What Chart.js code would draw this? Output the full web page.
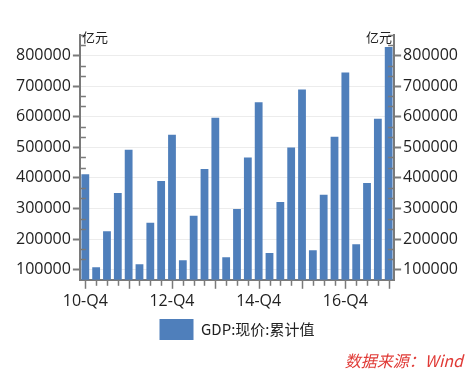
<!DOCTYPE html>
<html>
<head>
<meta charset="utf-8">
<script src="https://cdn.jsdelivr.net/npm/chart.js@4/dist/chart.umd.min.js"></script>
<style>
  html, body { margin: 0; padding: 0; background: #fff; }
  #wrap { position: relative; width: 469px; height: 369px; }
  #source {
    position: absolute; right: 6px; top: 351px;
    font: italic 16px "Noto Sans CJK SC", sans-serif; color: #e03a36;
    line-height: 18px;
  }
</style>
</head>
<body>
<div id="wrap">
  <canvas id="gdpChart"></canvas>
  <div id="source">数据来源：Wind</div>
</div>
<script>
const quarters = [
  '10-Q4',
  '11-Q1', '11-Q2', '11-Q3', '11-Q4',
  '12-Q1', '12-Q2', '12-Q3', '12-Q4',
  '13-Q1', '13-Q2', '13-Q3', '13-Q4',
  '14-Q1', '14-Q2', '14-Q3', '14-Q4',
  '15-Q1', '15-Q2', '15-Q3', '15-Q4',
  '16-Q1', '16-Q2', '16-Q3', '16-Q4',
  '17-Q1', '17-Q2', '17-Q3', '17-Q4'
];
const gdpCumulative = [
  412000,
  107500, 225700, 350400, 491500,
  117400, 253000, 389800, 540800,
  130500, 276000, 429000, 596500,
  140400, 298000, 466000, 646800,
  154500, 320900, 499000, 688400,
  163300, 344900, 534200, 744200,
  183000, 383200, 593300, 827300
];
const yTickValues = [100000, 200000, 300000, 400000, 500000, 600000, 700000, 800000];
const yMin = 66667;
const yMax = 866667;

const axisColor = '#7a7a7a';
const textColor = '#222';
const labelFont = { family: '"Open Sans", "Noto Sans", sans-serif', size: 16 };

// extra tick marks: minor ticks inside the y axes, per-quarter ticks on x, unit labels
const axisExtras = {
  id: 'axisExtras',
  afterDraw(chart) {
    const ctx = chart.ctx;
    const area = chart.chartArea;
    const x = chart.scales.x;
    const y = chart.scales.y;
    ctx.save();
    ctx.strokeStyle = axisColor;
    ctx.lineWidth = 1.5;
    for (let k = 1; k <= 24; k++) {
      if (k % 3 === 1) continue;
      const v = yMin + k * 100000 / 3;
      const py = Math.round(y.getPixelForValue(v)) + 0.5;
      ctx.beginPath();
      ctx.moveTo(area.left, py); ctx.lineTo(area.left + 6, py);
      ctx.moveTo(area.right, py); ctx.lineTo(area.right - 6, py);
      ctx.stroke();
    }
    quarters.forEach(function (q, i) {
      const px = Math.round(x.getPixelForValue(i)) + 0.5;
      const len = q.endsWith('Q4') ? 9 : 6;
      ctx.beginPath();
      ctx.moveTo(px, area.bottom); ctx.lineTo(px, area.bottom + len);
      ctx.stroke();
    });
    ctx.fillStyle = textColor;
    ctx.font = '13px "Noto Sans CJK SC", sans-serif';
    ctx.textBaseline = 'bottom';
    ctx.textAlign = 'left';
    ctx.fillText('亿元', area.left + 2, area.top + 9);
    ctx.textAlign = 'right';
    ctx.fillText('亿元', area.right - 2, area.top + 9);
    ctx.restore();
  }
};

const plainNumber = function (v) { return String(v); };

const ctx = document.getElementById('gdpChart').getContext('2d');
const gdpChart = new Chart(ctx, {
  type: 'bar',
  data: {
    labels: quarters,
    datasets: [{
      label: 'GDP:现价:累计值',
      data: gdpCumulative,
      backgroundColor: '#4f7fbb',
      barPercentage: 0.72,
      categoryPercentage: 1.0
    }]
  },
  options: {
    responsive: true,
    maintainAspectRatio: false,
    animation: false,
    layout: { padding: { left: 14, right: 9, top: 35, bottom: 19 } },
    plugins: {
      legend: {
        display: true,
        position: 'bottom',
        labels: {
          boxWidth: 34,
          boxHeight: 21,
          padding: 4,
          color: textColor,
          font: { family: '"Noto Sans CJK SC", sans-serif', size: 15 }
        }
      },
      tooltip: { enabled: false }
    },
    scales: {
      x: {
        grid: { display: false },
        border: { color: axisColor, width: 2 },
        ticks: {
          autoSkip: false,
          maxRotation: 0,
          padding: 4,
          color: textColor,
          font: labelFont,
          callback: function (val, i) { return i % 8 === 0 ? quarters[i] : ''; }
        }
      },
      y: {
        position: 'left',
        min: yMin,
        max: yMax,
        afterBuildTicks: function (axis) { axis.ticks = yTickValues.map(v => ({ value: v })); },
        grid: { color: '#ececec', lineWidth: 1, tickColor: axisColor, tickLength: 7, tickWidth: 2 },
        border: { color: axisColor, width: 2 },
        ticks: { padding: 2, color: textColor, font: labelFont, callback: plainNumber }
      },
      y2: {
        position: 'right',
        min: yMin,
        max: yMax,
        afterBuildTicks: function (axis) { axis.ticks = yTickValues.map(v => ({ value: v })); },
        grid: { drawOnChartArea: false, tickColor: axisColor, tickLength: 7, tickWidth: 2 },
        border: { color: axisColor, width: 2 },
        ticks: { padding: 2, color: textColor, font: labelFont, callback: plainNumber }
      }
    }
  },
  plugins: [axisExtras]
});
</script>
</body>
</html>
